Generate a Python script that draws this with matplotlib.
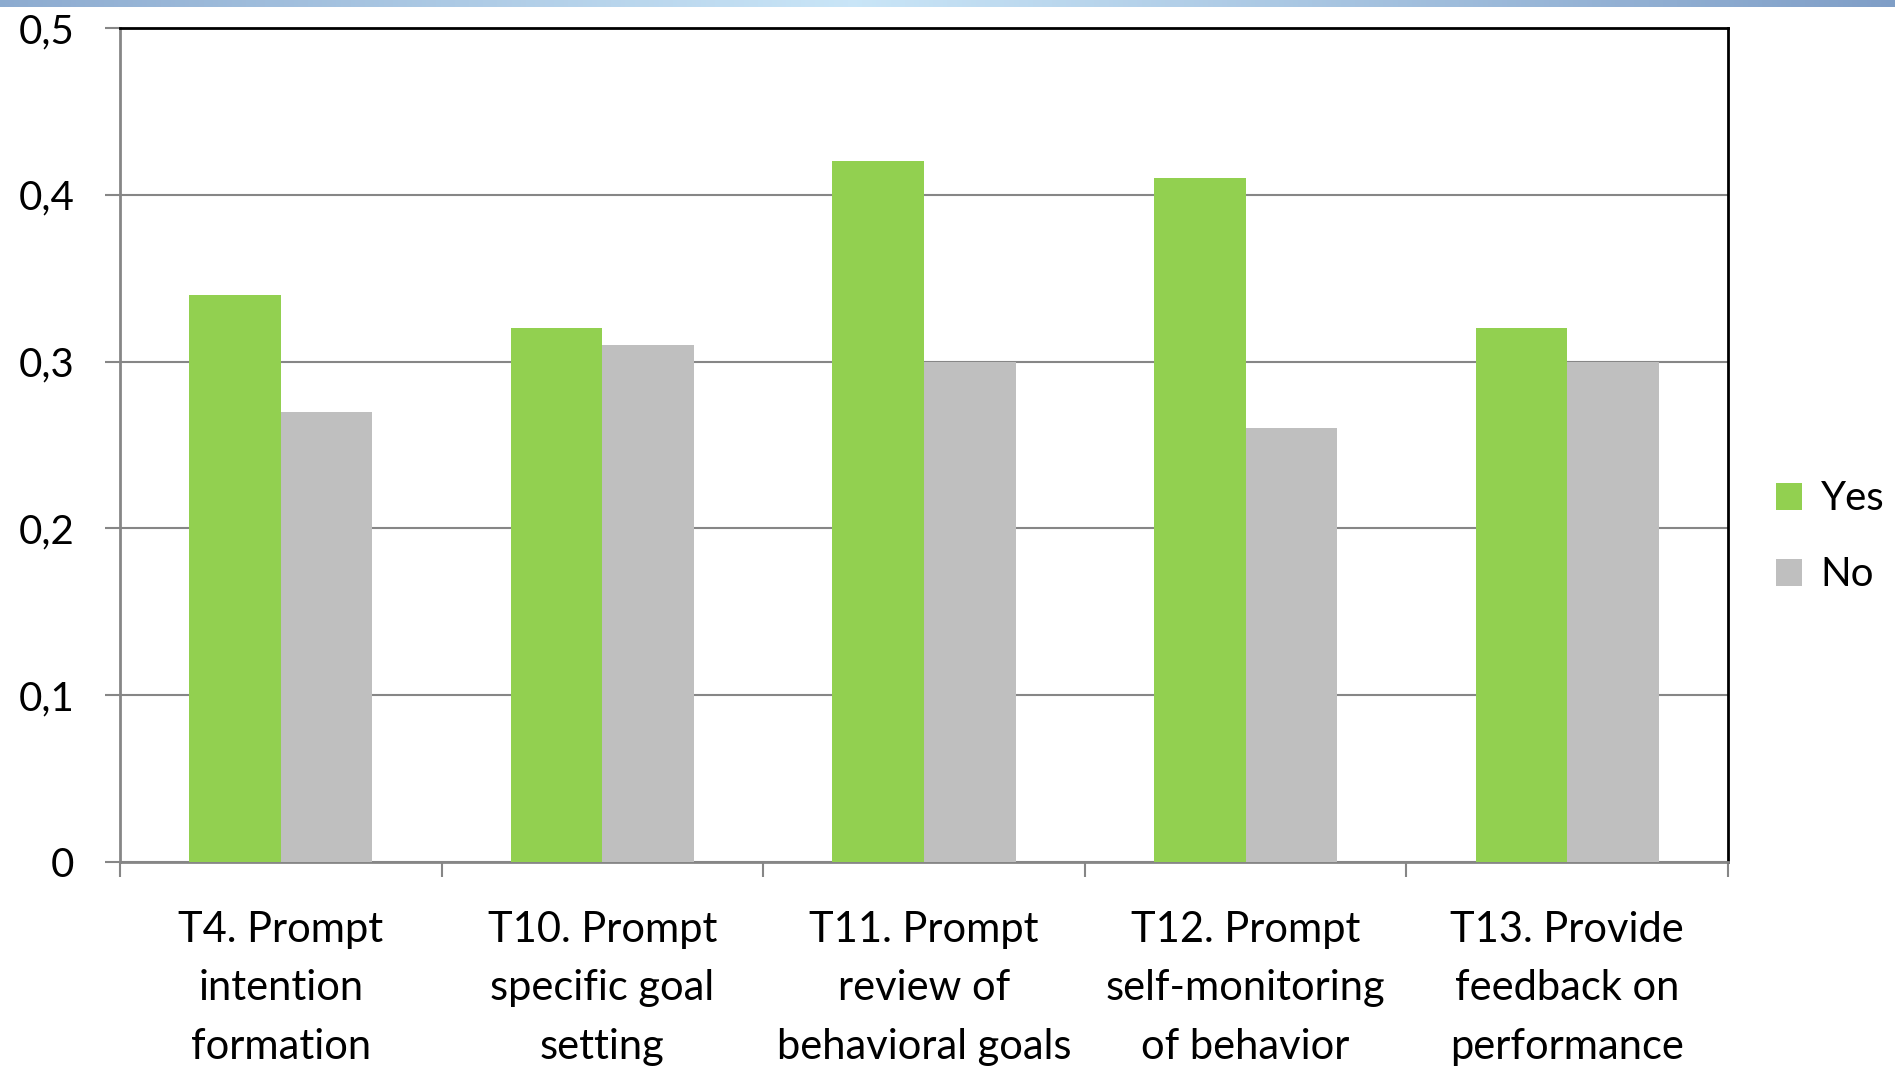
import matplotlib.pyplot as plt
import numpy as np

categories = ["T4. Prompt\nintention\nformation",
              "T10. Prompt\nspecific goal\nsetting",
              "T11. Prompt\nreview of\nbehavioral goals",
              "T12. Prompt\nself-monitoring\nof behavior",
              "T13. Provide\nfeedback on\nperformance"]
yes_vals = [0.34, 0.32, 0.42, 0.41, 0.32]
no_vals = [0.27, 0.31, 0.30, 0.26, 0.30]
ytick_vals = [0, 0.1, 0.2, 0.3, 0.4, 0.5]
ytick_labels = ["0", "0,1", "0,2", "0,3", "0,4", "0,5"]

plt.rcParams['font.family'] = ['Lato', 'DejaVu Sans']

fig = plt.figure(figsize=(18.95, 10.68), dpi=100)

# cut-off title band at the very top
band = fig.add_axes([0, 1 - 7 / 1068, 1, 7 / 1068])
xs = np.linspace(0, 1, 400)
w = np.clip(1 - np.abs(xs - 0.45) / 0.55, 0, 1)
c1 = np.array([0.50, 0.62, 0.78])
c2 = np.array([0.79, 0.90, 0.97])
grad = (c1[None, :] * (1 - w[:, None]) + c2[None, :] * w[:, None])[None, :, :]
band.imshow(grad, aspect='auto', extent=[0, 1, 0, 1])
band.axis('off')

ax = fig.add_axes([120 / 1895, 206 / 1068, 1608 / 1895, 834 / 1068])

x = np.arange(len(categories))
bw = 0.285
ax.bar(x - bw / 2, yes_vals, bw, color='#92D050', label='Yes', zorder=3)
ax.bar(x + bw / 2, no_vals, bw, color='#BFBFBF', label='No', zorder=3)

ax.set_xlim(-0.5, len(categories) - 0.5)
ax.set_ylim(0, 0.5)
ax.set_yticks(ytick_vals)
ax.set_yticklabels(ytick_labels)
ax.grid(axis='y', color='#868686', linewidth=1.5, zorder=0)

ax.set_xticks(x)
ax.set_xticklabels(categories, linespacing=1.66)
ax.set_xticks(np.arange(-0.5, len(categories)), minor=True)
ax.tick_params(axis='x', which='major', length=0, pad=35, labelsize=30)
ax.tick_params(axis='x', which='minor', length=11, width=1.5, color='#868686')
ax.tick_params(axis='y', length=11, width=1.5, color='#868686', pad=22, labelsize=29)

for side in ['left', 'bottom']:
    ax.spines[side].set_color('#868686')
    ax.spines[side].set_linewidth(2)
for side in ['top', 'right']:
    ax.spines[side].set_color('black')
    ax.spines[side].set_linewidth(2)

ax.legend(loc='center left', bbox_to_anchor=(1.02, 0.39), frameon=False,
          fontsize=29, handlelength=0.65, handleheight=0.65,
          handletextpad=0.45, labelspacing=0.97, borderaxespad=0)

fig.savefig('out.png', dpi=100)
